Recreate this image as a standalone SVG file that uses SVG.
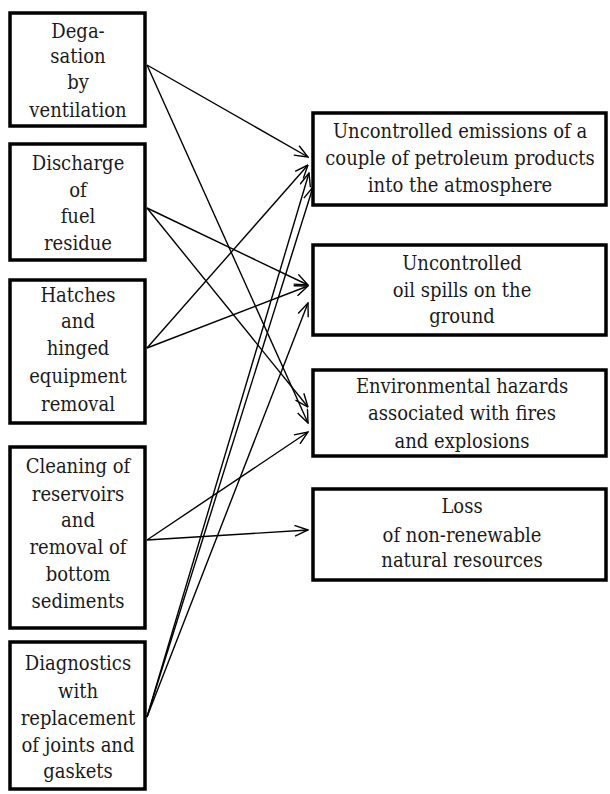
<svg xmlns="http://www.w3.org/2000/svg" width="610" height="794" viewBox="0 0 610 794">
<style>
.box{fill:#fff;stroke:#000;stroke-width:3.5}
.t{font-family:'DejaVu Serif Condensed','DejaVu Serif',serif;font-stretch:condensed;font-size:20px;fill:#1a1a1a;text-anchor:middle}
.c{stroke:#000;stroke-width:1.4;fill:none;marker-end:url(#ah)}
</style>
<defs>
<marker id="ah" viewBox="0 0 15 12" refX="14.3" refY="6" markerWidth="15" markerHeight="12" markerUnits="userSpaceOnUse" orient="auto">
<path d="M1,0.6 L14.3,6 L1,11.4" fill="none" stroke="#000" stroke-width="1.4"/>
</marker>
</defs>
<rect width="610" height="794" fill="#fff"/>
<g id="connectors">
<line class="c" x1="147" y1="65" x2="308" y2="157"/>
<line class="c" x1="147" y1="65" x2="308" y2="423"/>
<line class="c" x1="147" y1="208" x2="308" y2="285"/>
<line class="c" x1="147" y1="208" x2="308" y2="407"/>
<line class="c" x1="147" y1="348" x2="308" y2="165"/>
<line class="c" x1="147" y1="348" x2="308" y2="286"/>
<line class="c" x1="147" y1="540" x2="308" y2="432"/>
<line class="c" x1="147" y1="540" x2="308" y2="530"/>
<line class="c" x1="147" y1="717" x2="309" y2="173"/>
<line class="c" x1="147" y1="717" x2="313" y2="187"/>
<line class="c" x1="147" y1="717" x2="308" y2="303"/>
</g>
<g id="n1"><rect class="box" x="10" y="13" width="135" height="113"/>
<text class="t" x="78" y="38">Dega-</text><text class="t" x="78" y="63">sation</text><text class="t" x="78" y="89">by</text><text class="t" x="78" y="117">ventilation</text></g>
<g id="n2"><rect class="box" x="10" y="144" width="135" height="116"/>
<text class="t" x="78" y="170">Discharge</text><text class="t" x="78" y="197">of</text><text class="t" x="78" y="223">fuel</text><text class="t" x="78" y="250">residue</text></g>
<g id="n3"><rect class="box" x="10" y="280" width="135" height="143"/>
<text class="t" x="78" y="302">Hatches</text><text class="t" x="78" y="328">and</text><text class="t" x="78" y="355">hinged</text><text class="t" x="78" y="383">equipment</text><text class="t" x="78" y="411">removal</text></g>
<g id="n4"><rect class="box" x="10" y="447" width="135" height="181"/>
<text class="t" x="78" y="473">Cleaning of</text><text class="t" x="78" y="501">reservoirs</text><text class="t" x="78" y="527">and</text><text class="t" x="78" y="554">removal of</text><text class="t" x="78" y="581">bottom</text><text class="t" x="78" y="608">sediments</text></g>
<g id="n5"><rect class="box" x="10" y="642" width="135" height="147"/>
<text class="t" x="78" y="670">Diagnostics</text><text class="t" x="78" y="698">with</text><text class="t" x="78" y="725">replacement</text><text class="t" x="78" y="752">of joints and</text><text class="t" x="78" y="778">gaskets</text></g>
<g id="r1"><rect class="box" x="313" y="113" width="293" height="92"/>
<text class="t" x="460" y="138">Uncontrolled emissions of a</text><text class="t" x="460" y="165">couple of petroleum products</text><text class="t" x="460" y="192">into the atmosphere</text></g>
<g id="r2"><rect class="box" x="313" y="245" width="293" height="90"/>
<text class="t" x="462" y="270">Uncontrolled</text><text class="t" x="462" y="297">oil spills on the</text><text class="t" x="462" y="323">ground</text></g>
<g id="r3"><rect class="box" x="313" y="370" width="293" height="86"/>
<text class="t" x="462" y="393">Environmental hazards</text><text class="t" x="462" y="420">associated with fires</text><text class="t" x="462" y="448">and explosions</text></g>
<g id="r4"><rect class="box" x="313" y="489" width="293" height="91"/>
<text class="t" x="462" y="513">Loss</text><text class="t" x="462" y="542">of non-renewable</text><text class="t" x="462" y="567">natural resources</text></g>
</svg>
